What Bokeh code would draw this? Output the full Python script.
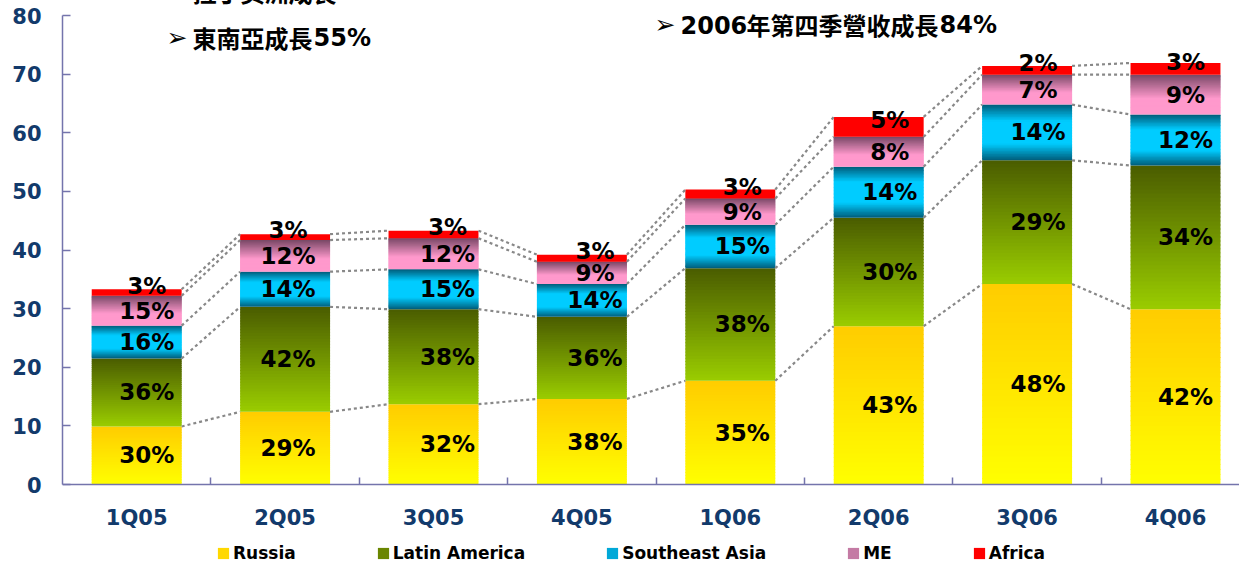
from bokeh.plotting import figure
from bokeh.models import (ColumnDataSource, Range1d, FixedTicker, Legend, LegendItem, Label)
from bokeh.core.properties import value
from bokeh.embed import file_html
from bokeh.resources import INLINE

# ---------------- data ----------------
quarters = ["1Q05", "2Q05", "3Q05", "4Q05", "1Q06", "2Q06", "3Q06", "4Q06"]
series = ["Russia", "Latin America", "Southeast Asia", "ME", "Africa"]
russia = [9.9, 12.4, 13.7, 14.6, 17.7, 27.0, 34.2, 29.9]
latin_america = [11.6, 17.9, 16.2, 14.0, 19.2, 18.5, 21.1, 24.5]
southeast_asia = [5.6, 6.0, 6.8, 5.6, 7.4, 8.7, 9.5, 8.7]
middle_east = [5.1, 5.4, 5.3, 3.8, 4.5, 5.1, 5.1, 6.8]
africa = [1.1, 1.0, 1.3, 1.2, 1.5, 3.4, 1.5, 2.0]
pct_russia = [30, 29, 32, 38, 35, 43, 48, 42]
pct_latin = [36, 42, 38, 36, 38, 30, 29, 34]
pct_sea = [16, 14, 15, 14, 15, 14, 14, 12]
pct_me = [15, 12, 12, 9, 9, 8, 7, 9]
pct_africa = [3, 3, 3, 3, 3, 5, 2, 3]
y_ticks = [0, 10, 20, 30, 40, 50, 60, 70, 80]
notes = ["拉丁美洲成長74%", "東南亞成長55%", "2006年第四季營收成長84%"]

values = [russia, latin_america, southeast_asia, middle_east, africa]
pcts = [pct_russia, pct_latin, pct_sea, pct_me, pct_africa]

# ---------------- layout / styling ----------------
SHIFT = 8                      # figure is pulled up/left by the negative margin
W, H = 1239 + SHIFT, 563 + SHIFT
FRAME_L = 62                   # screen px of the y axis
Y80, Y0 = 15, 484              # screen px of value 80 and 0
PX_PER_Y = (Y0 - Y80) / 80.0
PX_PER_X = 148.4
NAVY = "#123A6B"
AXIS = "#7474AC"
BAR_W = 0.606
N_BANDS = 36

x_start = -0.5
x_end = -0.5 + (1239 - FRAME_L) / PX_PER_X
y_end = 80 + (Y80 + SHIFT) / PX_PER_Y
y_start = -(563 - Y0) / PX_PER_Y


def lerp(c1, c2, t):
    return "#%02x%02x%02x" % tuple(int(round(a + (b - a) * t)) for a, b in zip(c1, c2))


def grad_russia(t):
    return lerp((255, 255, 0), (255, 204, 0), t)


def grad_latin(t):
    return lerp((154, 205, 0), (74, 92, 0), t)


def grad_sea(t):
    d = abs(t - 0.5) * 2
    if d < 0.4:
        return "#00ccff"
    return lerp((0, 204, 255), (0, 92, 122), (d - 0.4) / 0.6)


def grad_me(t):
    if t < 0.4:
        return "#ff99cc"
    return lerp((255, 153, 204), (120, 72, 102), (t - 0.4) / 0.6)


def grad_africa(t):
    return "#ff0000"


grads = [grad_russia, grad_latin, grad_sea, grad_me, grad_africa]
legend_colors = ["#ffd800", "#6a8600", "#00a8d8", "#c47aa4", "#ff0000"]

p = figure(width=W, height=H, x_range=Range1d(x_start, x_end), y_range=Range1d(y_start, y_end),
           output_backend="svg", toolbar_location=None,
           min_border_left=FRAME_L + SHIFT, min_border_right=0, min_border_top=0,
           min_border_bottom=0)
p.margin = (-SHIFT, -SHIFT, -SHIFT, -SHIFT)
p.outline_line_color = None
p.xgrid.visible = False
p.ygrid.visible = False
p.background_fill_color = "white"
p.border_fill_color = "white"

xs = list(range(len(quarters)))

# ---------------- stacked bars with gradient bands ----------------
cum_bottom = [0.0] * len(quarters)
boundaries = []
label_x, label_y, label_t, label_dx, label_dy = [], [], [], [], []
dx_per_cat = [10, 3, 14, 13, 12, 11, 11, 10]
OVERLAP = 0.15
for si, (vals, grad) in enumerate(zip(values, grads)):
    bx, bb, bt, bc = [], [], [], []
    nb = 1 if si == 4 else N_BANDS
    for i, v in enumerate(vals):
        b0 = cum_bottom[i]
        for k in range(nb):
            bx.append(xs[i])
            bb.append(b0 + v * k / nb)
            top = b0 + v * (k + 1) / nb
            if k < nb - 1:
                top += OVERLAP
            bt.append(top)
            bc.append(grad((k + 0.5) / nb))
        label_x.append(xs[i])
        label_y.append(b0 + v / 2)
        label_t.append("%d%%" % pcts[si][i])
        label_dx.append(dx_per_cat[i])
        label_dy.append(-7 if si == 4 else 0)
    src = ColumnDataSource(dict(x=bx, bottom=bb, top=bt, color=bc))
    p.vbar(x="x", bottom="bottom", top="top", width=BAR_W, source=src,
           fill_color="color", line_color=None)
    cum_bottom = [c + v for c, v in zip(cum_bottom, vals)]
    boundaries.append(list(cum_bottom))

# ---------------- dotted connectors ----------------
sx0, sy0, sx1, sy1 = [], [], [], []
for bnd in boundaries:
    for i in range(len(quarters) - 1):
        sx0.append(xs[i] + BAR_W / 2)
        sy0.append(bnd[i])
        sx1.append(xs[i + 1] - BAR_W / 2)
        sy1.append(bnd[i + 1])
p.segment(x0=sx0, y0=sy0, x1=sx1, y1=sy1, line_color="#888888", line_width=2.2,
          line_dash="3 3")

# ---------------- percentage labels ----------------
lsrc = ColumnDataSource(dict(x=label_x, y=label_y, t=label_t, dx=label_dx, dy=label_dy))
p.text(x="x", y="y", text="t", source=lsrc, x_offset="dx", y_offset="dy",
       text_align="center", text_baseline="middle", text_color="black",
       text_font=value("DejaVu Sans"), text_font_style="bold", text_font_size="23px")

# ---------------- axes ----------------
p.yaxis.bounds = (0, 80)
p.yaxis.ticker = FixedTicker(ticks=y_ticks)
p.yaxis.axis_line_color = AXIS
p.yaxis.axis_line_width = 1.5
p.yaxis.major_tick_line_color = AXIS
p.yaxis.major_tick_line_width = 1.5
p.yaxis.major_tick_in = 8
p.yaxis.major_tick_out = 0
p.yaxis.minor_tick_line_color = None
p.yaxis.major_label_standoff = 21
p.yaxis.major_label_text_font = "DejaVu Sans"
p.yaxis.major_label_text_font_style = "bold"
p.yaxis.major_label_text_font_size = "21px"
p.yaxis.major_label_text_color = NAVY

p.xaxis.fixed_location = 0
p.xaxis.ticker = FixedTicker(ticks=xs, minor_ticks=[i + 0.5 for i in xs])
p.xaxis.major_label_overrides = {i: q for i, q in zip(xs, quarters)}
p.xaxis.axis_line_color = AXIS
p.xaxis.axis_line_width = 1.5
p.xaxis.major_tick_line_color = None
p.xaxis.major_tick_in = 0
p.xaxis.major_tick_out = 0
p.xaxis.minor_tick_line_color = AXIS
p.xaxis.minor_tick_line_width = 1.5
p.xaxis.minor_tick_in = 7
p.xaxis.minor_tick_out = 0
p.xaxis.major_label_standoff = 21
p.xaxis.major_label_text_font = "DejaVu Sans"
p.xaxis.major_label_text_font_style = "bold"
p.xaxis.major_label_text_font_size = "21px"
p.xaxis.major_label_text_color = NAVY

# ---------------- legend ----------------
items = []
for name, col in zip(series, legend_colors):
    # one off-screen point so the legend swatch is drawn; nothing is visible in the frame
    r = p.rect(x=[x_start - 5], y=[y_start - 5], width=0.1, height=0.1,
               fill_color=col, line_color=None)
    items.append(LegendItem(label=name, renderers=[r]))
legend = Legend(items=items, orientation="horizontal", location=(154, 0),
                glyph_width=14, glyph_height=14, label_standoff=3, spacing=80,
                padding=0, margin=0, border_line_color=None, background_fill_alpha=0,
                label_text_font="DejaVu Sans", label_text_font_style="bold",
                label_text_font_size="17px", label_text_color="black", label_height=14)
p.add_layout(legend)

# ---------------- annotations ----------------
def dx(px):
    return (px - FRAME_L) / PX_PER_X - 0.5


def dy(py):
    return (Y0 - py) / PX_PER_Y


CJK = "Noto Sans CJK TC"
LAT = "DejaVu Sans"


def note(px, py, txt, font, style):
    p.add_layout(Label(x=dx(px), y=dy(py), text=txt, text_align="left",
                       text_baseline="middle", text_font=font, text_font_style=style,
                       text_font_size="24px", text_color="black"))


def arrow(px, py):
    p.add_layout(Label(x=dx(px), y=dy(py), text="\u27a2", text_align="left",
                       text_baseline="middle", text_font=LAT, text_font_size="25px",
                       text_color="black"))


# line 1 (cut off at the top of the picture)
arrow(166, -11)
note(192, -9, notes[0][:6], CJK, "bold")
note(336, -9, notes[0][6:], LAT, "bold")
# line 2
arrow(166, 37)
note(192, 37, notes[1][:5], CJK, "bold")
note(313, 37, notes[1][5:], LAT, "bold")
# line 3
arrow(654, 24)
note(680, 24, notes[2][:4], LAT, "bold")
note(746, 24, notes[2][4:12], CJK, "bold")
note(939, 24, notes[2][12:], LAT, "bold")

open("out.html", "w").write(file_html(p, INLINE))
